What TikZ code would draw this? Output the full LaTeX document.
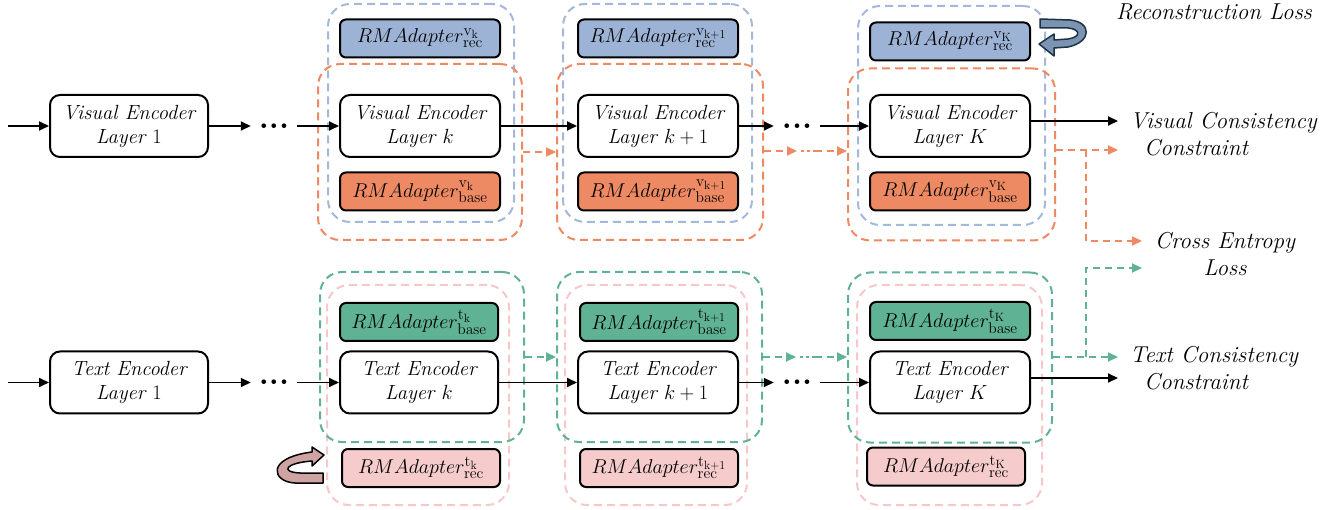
\RequirePackage{fix-cm}
\documentclass[tikz,border=0pt]{standalone}
\usetikzlibrary{arrows.meta,calc}
\DeclareMathSizes{20}{20}{15.5}{12}
\definecolor{bluef}{HTML}{9DB3D6}
\definecolor{orangef}{HTML}{EE8A63}
\definecolor{greenf}{HTML}{5FB394}
\definecolor{pinkf}{HTML}{F6CBCB}
\definecolor{blued}{HTML}{A3B8DA}
\definecolor{oranged}{HTML}{EE8A63}
\definecolor{greend}{HTML}{5FB394}
\definecolor{pinkd}{HTML}{F8C8C8}
\definecolor{recblue}{HTML}{7D93B2}
\definecolor{recblueline}{HTML}{1B3346}
\definecolor{recpink}{HTML}{CFA3A3}
\begin{document}
\begin{tikzpicture}[x=1pt,y=-1pt,
  enc/.style={draw=black,line width=2pt,fill=white,rounded corners=10pt,minimum width=158pt,minimum height=62pt,align=center,inner sep=0pt,font=\fontsize{20.5}{24}\selectfont\itshape},
  adp/.style={draw=black,line width=2pt,rounded corners=6pt,minimum width=158pt,minimum height=38pt,inner sep=0pt,font=\fontsize{20}{22}\selectfont},
  grp/.style={dash pattern=on 8pt off 5pt,line width=2pt,rounded corners=22pt,inner sep=0pt},
  arr/.style={line width=1.8pt,-{Triangle[length=10pt,width=9pt]}},
  darr/.style={dash pattern=on 7pt off 5pt,line width=2pt,-{Triangle[length=10pt,width=9pt]}},
  dotl/.style={dash pattern=on 3pt off 3pt,line width=2pt},
  dots/.style={inner xsep=8pt,inner ysep=2pt,font=\fontsize{32}{32}\selectfont\bfseries},
  lbl/.style={inner sep=0pt,font=\fontsize{23}{27}\selectfont\itshape}
]
\useasboundingbox (0,0) rectangle (1336,510);

% ---------- groups (visual) ----------
\node[grp,draw=blued,minimum width=186pt,minimum height=218pt] (bg1) at (421,113) {};
\node[grp,draw=oranged,minimum width=204pt,minimum height=176pt] (og1) at (420,152) {};
\node[grp,draw=blued,minimum width=189pt,minimum height=218pt] (bg2) at (657.5,113) {};
\node[grp,draw=oranged,minimum width=206pt,minimum height=176pt] (og2) at (660,152) {};
\node[grp,draw=blued,minimum width=187pt,minimum height=219pt] (bg3) at (951.5,115.5) {};
\node[grp,draw=oranged,minimum width=207pt,minimum height=172pt] (og3) at (951.5,154.5) {};

% ---------- groups (text) ----------
\node[grp,draw=pinkd,minimum width=182pt,minimum height=220pt] (pg1) at (418,395) {};
\node[grp,draw=greend,minimum width=204pt,minimum height=170pt] (gg1) at (422,357) {};
\node[grp,draw=pinkd,minimum width=182pt,minimum height=220pt] (pg2) at (656,395) {};
\node[grp,draw=greend,minimum width=205pt,minimum height=170pt] (gg2) at (659.5,357) {};
\node[grp,draw=pinkd,minimum width=185pt,minimum height=220pt] (pg3) at (949.5,395) {};
\node[grp,draw=greend,minimum width=204pt,minimum height=170pt] (gg3) at (950,357.5) {};

% ---------- visual row ----------
\coordinate (vin) at (8,126);
\node[enc] (ve1) at (129,126) {Visual Encoder\\Layer $1$};
\node[dots] (dv1) at (274,126) {...};
\node[enc,minimum width=160pt] (vek) at (420,126) {Visual Encoder\\Layer $k$};
\node[enc,minimum width=160pt] (vek1) at (658,126) {Visual Encoder\\Layer $k+1$};
\node[dots] (dv2) at (797,126) {...};
\node[enc,minimum width=160pt] (veK) at (950,126) {Visual Encoder\\Layer $K$};

\node[adp,fill=bluef,minimum width=160pt] (rvk) at (420,38.5) {$RMAdapter^{\mathrm{v}_{\mathrm{k}}}_{\mathrm{rec}}$};
\node[adp,fill=bluef,minimum width=160pt] (rvk1) at (658,38.5) {$RMAdapter^{\mathrm{v}_{\mathrm{k+1}}}_{\mathrm{rec}}$};
\node[adp,fill=bluef,minimum width=160pt] (rvK) at (950,41.5) {$RMAdapter^{\mathrm{v}_{\mathrm{K}}}_{\mathrm{rec}}$};
\node[adp,fill=orangef,minimum width=160pt] (bvk) at (420,191.5) {$RMAdapter^{\mathrm{v}_{\mathrm{k}}}_{\mathrm{base}}$};
\node[adp,fill=orangef,minimum width=160pt] (bvk1) at (658,191.5) {$RMAdapter^{\mathrm{v}_{\mathrm{k+1}}}_{\mathrm{base}}$};
\node[adp,fill=orangef,minimum width=160pt] (bvK) at (950,191.5) {$RMAdapter^{\mathrm{v}_{\mathrm{K}}}_{\mathrm{base}}$};

\draw[arr] (vin) -- (ve1);
\draw[arr] (ve1) -- (dv1);
\draw[arr] (dv1) -- (vek);
\draw[arr] (vek) -- (vek1);
\draw[arr] (vek1) -- (dv2);
\draw[arr] (dv2) -- (veK);
\coordinate (vccin) at (1118,121);
\draw[arr] (veK.east |- vccin) -- (vccin);

% ---------- text row ----------
\coordinate (tin) at (8,382.5);
\node[enc] (te1) at (129,382.5) {Text Encoder\\Layer $1$};
\node[dots] (dt1) at (274,382.5) {...};
\node[enc] (tek) at (419,382.5) {Text Encoder\\Layer $k$};
\node[enc,minimum width=160pt] (tek1) at (658,382.5) {Text Encoder\\Layer $k+1$};
\node[dots] (dt2) at (797,382.5) {...};
\node[enc,minimum width=160pt] (teK) at (950,382.5) {Text Encoder\\Layer $K$};

\node[adp,fill=greenf] (btk) at (419,322) {$RMAdapter^{\mathrm{t}_{\mathrm{k}}}_{\mathrm{base}}$};
\node[adp,fill=greenf] (btk1) at (659,322) {$RMAdapter^{\mathrm{t}_{\mathrm{k+1}}}_{\mathrm{base}}$};
\node[adp,fill=greenf,minimum width=160pt] (btK) at (950,321) {$RMAdapter^{\mathrm{t}_{\mathrm{K}}}_{\mathrm{base}}$};
\node[adp,fill=pinkf] (rtk) at (421,468) {$RMAdapter^{\mathrm{t}_{\mathrm{k}}}_{\mathrm{rec}}$};
\node[adp,fill=pinkf] (rtk1) at (659,468) {$RMAdapter^{\mathrm{t}_{\mathrm{k+1}}}_{\mathrm{rec}}$};
\node[adp,fill=pinkf] (rtK) at (946,466.5) {$RMAdapter^{\mathrm{t}_{\mathrm{K}}}_{\mathrm{rec}}$};

\draw[arr] (tin) -- (te1);
\draw[arr] (te1) -- (dt1);
\draw[arr] (dt1) -- (tek);
\draw[arr] (tek) -- (tek1);
\draw[arr] (tek1) -- (dt2);
\draw[arr] (dt2) -- (teK);
\coordinate (tccin) at (1118,378);
\draw[arr] (teK.east |- tccin) -- (tccin);

% ---------- dashed orange connectors ----------
\draw[darr,oranged] (og1.east) -- (og2.west);
\coordinate (om1) at (797,151);
\coordinate (om2) at (801,151);
\coordinate (om3) at (815,151);
\draw[darr,oranged] (og2.east |- om1) -- (om1);
\draw[dotl,oranged] (om2) -- (om3);
\draw[darr,oranged] (om3) -- (og3.west |- om3);
\coordinate (ot) at (1118,150);
\coordinate (ob) at (1086,150);
\coordinate (oce) at (1142,241);
\draw[darr,oranged] (og3.east |- ot) -- (ot);
\draw[darr,oranged] (ob) |- (oce);

% ---------- dashed green connectors ----------
\draw[darr,greend] (gg1.east) -- (gg2.west);
\coordinate (gm1) at (796,357);
\coordinate (gm2) at (800,357);
\coordinate (gm3) at (815,357);
\draw[darr,greend] (gg2.east |- gm1) -- (gm1);
\draw[dotl,greend] (gm2) -- (gm3);
\draw[darr,greend] (gm3) -- (gg3.west |- gm3);
\coordinate (gt) at (1118,357);
\coordinate (gb) at (1086,357);
\coordinate (gce) at (1142,268);
\draw[darr,greend] (gg3.east |- gt) -- (gt);
\draw[darr,greend] (gb) |- (gce);

% ---------- labels ----------
\node[lbl,anchor=west,align=left] (vcc) at (1130,134.5) {Visual Consistency\\\hspace*{14pt}Constraint};
\node[lbl,anchor=west,align=left] (tcc) at (1130,368) {Text Consistency\\\hspace*{14pt}Constraint};
\node[lbl,align=center] (cel) at (1225,254) {Cross Entropy\\Loss};
\node[lbl] (rl) at (1214,12) {Reconstruction Loss};

% ---------- curved arrows ----------
\filldraw[fill=recblue,draw=recblueline,line width=1.5pt,line join=round]
  (1040,19) -- (1070,20) .. controls (1092,22) and (1092,42) .. (1068,47)
  -- (1054,48) -- (1054,56) -- (1039,44) -- (1054,34) -- (1054,40)
  -- (1068,39) .. controls (1082,37) and (1080,29) .. (1068,28) -- (1040,28) -- cycle;
\filldraw[fill=recpink,draw=black,line width=1.5pt,line join=round]
  (323,473) -- (323,483) -- (295,483) .. controls (272,482) and (265,458) .. (312,452)
  -- (312,447) -- (324,455) -- (312,466) -- (312,461)
  .. controls (285,463) and (280,472) .. (300,473) -- cycle;
\end{tikzpicture}
\end{document}
